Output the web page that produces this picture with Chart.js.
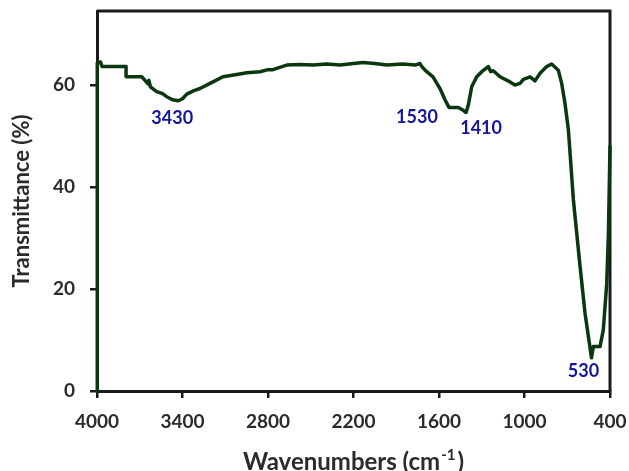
<!DOCTYPE html>
<html>
<head>
<meta charset="utf-8">
<script src="https://cdn.jsdelivr.net/npm/chart.js@4.4.1/dist/chart.umd.min.js"></script>
<style>
  html, body { margin: 0; padding: 0; background: #ffffff; }
  #wrap { width: 629px; height: 471px; position: relative; }
</style>
</head>
<body>
<div id="wrap"><canvas id="ftir"></canvas></div>
<script>
// FTIR spectrum: wavenumber (cm-1) and transmittance (%)
const wavenumbers = [
  4000, 3998, 3975, 3965, 3796, 3796, 3686, 3660, 3642, 3636, 3625, 3614,
  3581, 3540, 3511, 3470, 3430, 3400, 3370, 3320, 3277, 3207, 3116, 3030, 2949,
  2856, 2800, 2765, 2669, 2580, 2484, 2388, 2295, 2200, 2133, 2050, 1967,
  1853, 1768, 1733, 1720, 1698, 1642, 1593, 1558, 1530, 1464, 1440, 1410,
  1394, 1370, 1335, 1300, 1254, 1237, 1219, 1172, 1102, 1067, 1031, 1008,
  961, 926, 891, 844, 809, 763, 739, 716, 692, 657, 610, 575,
  545, 530, 517, 470, 447, 423, 411, 400
];
const transmittance = [
  0, 64.3, 64.5, 63.6, 63.6, 61.6, 61.6, 60.8, 60.2, 60.9, 59.6, 59.4,
  58.7, 58.3, 57.7, 57.1, 56.9, 57.3, 58.2, 58.9, 59.3, 60.3, 61.6, 62.0, 62.4,
  62.6, 63.0, 63.0, 63.9, 64.0, 63.9, 64.1, 63.9, 64.2, 64.4, 64.2, 63.9,
  64.1, 63.9, 64.2, 63.6, 62.9, 61.6, 59.3, 57.1, 55.6, 55.6, 55.2, 54.6,
  56.1, 59.7, 61.6, 62.6, 63.6, 62.6, 62.8, 61.6, 60.6, 60.0, 60.3, 61.1,
  61.6, 60.8, 62.3, 63.6, 64.1, 62.9, 60.3, 56.4, 51.2, 37.5, 24.4, 15.2,
  9.4, 6.5, 8.7, 8.7, 12, 21, 31, 48
];

// Tick values on each axis
const xTickValues = [4000, 3400, 2800, 2200, 1600, 1000, 400];
const yTickValues = [0, 20, 40, 60];

// Band assignments written next to the spectrum
const peakWavenumbers = [3430, 1530, 1410, 530];
const peakLabels = ['3430', '1530', '1410', '530'];
const peakValues = [56.9, 55.6, 54.6, 6.5];
const peakOffsets = [[-6, 17], [-32, 10], [15, 16], [-8, 13]];

const points = wavenumbers.map((w, i) => ({ x: w, y: transmittance[i] }));

const axisColor = '#1a1a1a';
const textColor = '#2b2b2b';

// Closed box around the plot area
const framePlugin = {
  id: 'frame',
  beforeDatasetsDraw(chart) {
    const { ctx, chartArea: a } = chart;
    ctx.save();
    ctx.strokeStyle = axisColor;
    ctx.lineWidth = 3;
    ctx.beginPath();
    ctx.moveTo(a.left, a.top);
    ctx.lineTo(a.right, a.top);
    ctx.lineTo(a.right, a.bottom);
    ctx.stroke();
    ctx.restore();
  }
};

// Peak labels plus the x-axis title with its superscript
const textPlugin = {
  id: 'texts',
  afterDatasetsDraw(chart) {
    const { ctx, chartArea: a, scales } = chart;
    const xs = scales.x, ys = scales.y;
    ctx.save();
    ctx.fillStyle = '#14169a';
    ctx.font = 'bold 18px Lato';
    ctx.textAlign = 'center';
    ctx.textBaseline = 'middle';
    peakWavenumbers.forEach((w, i) => {
      const px = xs.getPixelForValue(w) + peakOffsets[i][0];
      const py = ys.getPixelForValue(peakValues[i]) + peakOffsets[i][1];
      ctx.fillText(peakLabels[i], px, py);
    });

    // "Wavenumbers (cm-1)" with raised -1
    const main = 'Wavenumbers (cm';
    const sup = '-1';
    const tail = ')';
    const bigFont = 'bold 24px Lato';
    const supFont = 'bold 15px Lato';
    ctx.font = bigFont;
    const wMain = ctx.measureText(main).width;
    const wTail = ctx.measureText(tail).width;
    ctx.font = supFont;
    const wSup = ctx.measureText(sup).width;
    const total = wMain + wSup + wTail + 3;
    let x0 = (a.left + a.right) / 2 - total / 2;
    const yBase = 470;
    ctx.fillStyle = textColor;
    ctx.textAlign = 'left';
    ctx.textBaseline = 'alphabetic';
    ctx.font = bigFont;
    ctx.fillText(main, x0, yBase);
    ctx.font = supFont;
    ctx.fillText(sup, x0 + wMain + 1, yBase - 10);
    ctx.font = bigFont;
    ctx.fillText(tail, x0 + wMain + wSup + 3, yBase);
    ctx.restore();
  }
};

const plainNumber = v => String(v);

new Chart(document.getElementById('ftir'), {
  type: 'line',
  data: {
    datasets: [{
      data: points,
      borderColor: '#0b3710',
      borderWidth: 3.5,
      borderJoinStyle: 'round',
      borderCapStyle: 'round',
      pointRadius: 0,
      tension: 0,
      fill: false,
      clip: false
    }]
  },
  options: {
    responsive: true,
    maintainAspectRatio: false,
    animation: false,
    layout: { padding: { left: 0, right: 19, top: 11, bottom: 0 } },
    plugins: {
      legend: { display: false },
      tooltip: { enabled: false }
    },
    scales: {
      x: {
        type: 'linear',
        reverse: true,
        min: 400,
        max: 4000,
        afterBuildTicks(scale) { scale.ticks = xTickValues.map(v => ({ value: v })); },
        afterFit(scale) { scale.height = 80; scale.paddingLeft = 0; scale.paddingRight = 0; },
        border: { display: true, color: axisColor, width: 3 },
        grid: { display: true, drawOnChartArea: false, drawTicks: true, tickLength: 7, color: axisColor, lineWidth: 2.5 },
        ticks: { color: textColor, font: { family: 'Lato', size: 19, weight: 'bold' }, padding: 12, maxRotation: 0, autoSkip: false, callback: plainNumber },
        title: { display: false }
      },
      y: {
        type: 'linear',
        min: 0,
        max: 74.5,
        afterBuildTicks(scale) { scale.ticks = yTickValues.map(v => ({ value: v })); },
        afterFit(scale) { scale.width = 97; scale.paddingTop = 0; scale.paddingBottom = 0; },
        border: { display: true, color: axisColor, width: 3 },
        grid: { display: true, drawOnChartArea: false, drawTicks: true, tickLength: 7, color: axisColor, lineWidth: 2.5 },
        ticks: { color: textColor, font: { family: 'Lato', size: 19, weight: 'bold' }, padding: 15, callback: plainNumber },
        title: {
          display: true,
          text: 'Transmittance (%)',
          color: textColor,
          font: { family: 'Lato', size: 22, weight: 'bold' },
          padding: { top: 9, bottom: 0 }
        }
      }
    }
  },
  plugins: [framePlugin, textPlugin]
});
</script>
</body>
</html>
